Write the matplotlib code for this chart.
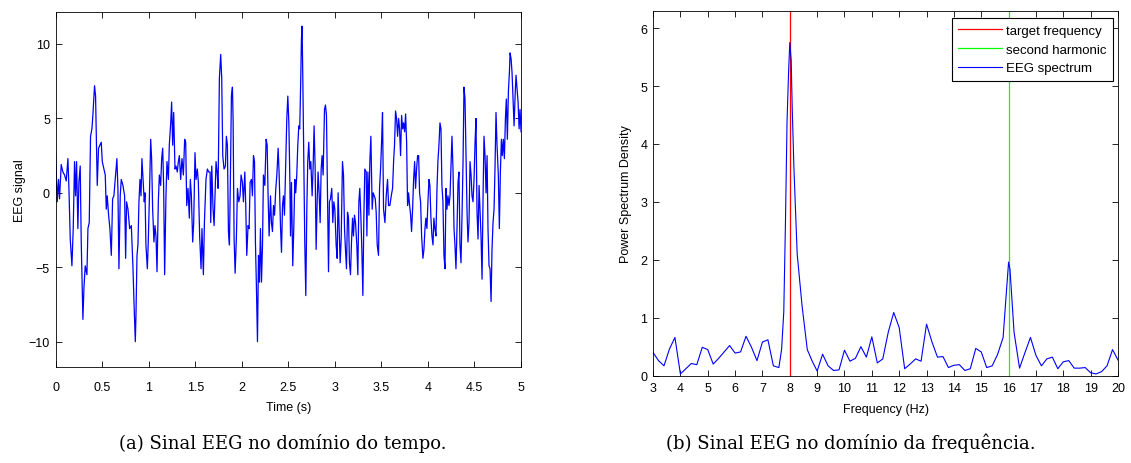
import matplotlib
matplotlib.use("Agg")
import matplotlib.pyplot as plt
import numpy as np

# --- (a) EEG signal in time domain (vertices) ---
time_s = [
    0.0, 0.018, 0.032, 0.043, 0.061, 0.079, 0.097, 0.115, 0.133, 0.143,
    0.158, 0.176, 0.190, 0.204, 0.215, 0.226, 0.240, 0.251, 0.265, 0.276,
    0.294, 0.305, 0.319, 0.337, 0.348, 0.362, 0.376, 0.391, 0.401, 0.419,
    0.430, 0.437, 0.448, 0.462, 0.477, 0.491, 0.502, 0.520, 0.534, 0.545,
    0.555, 0.570, 0.584, 0.599, 0.613, 0.627, 0.641, 0.659, 0.670, 0.681,
    0.695, 0.706, 0.724, 0.742, 0.753, 0.763, 0.778, 0.796, 0.814, 0.831,
    0.846, 0.857, 0.864, 0.875, 0.885, 0.896, 0.907, 0.918, 0.928, 0.943,
    0.953, 0.961, 0.971, 0.986, 0.996, 1.007, 1.022, 1.032, 1.043, 1.057,
    1.068, 1.079, 1.090, 1.104, 1.115, 1.129, 1.140, 1.151, 1.161, 1.172,
    1.186, 1.197, 1.212, 1.222, 1.237, 1.247, 1.258, 1.269, 1.283, 1.294,
    1.308, 1.319, 1.330, 1.344, 1.358, 1.373, 1.387, 1.398, 1.409, 1.423,
    1.437, 1.448, 1.459, 1.473, 1.484, 1.498, 1.509, 1.523, 1.534, 1.548,
    1.563, 1.573, 1.588, 1.599, 1.616, 1.631, 1.645, 1.660,
    1.667, 1.678, 1.692, 1.703, 1.714, 1.724, 1.735, 1.746, 1.760, 1.774,
    1.785, 1.796, 1.810, 1.825, 1.835, 1.846, 1.857, 1.868, 1.878, 1.889,
    1.900, 1.907, 1.918, 1.929, 1.943, 1.954, 1.968, 1.982, 1.993, 2.007,
    2.018, 2.033, 2.043, 2.054, 2.068, 2.079, 2.090, 2.104, 2.115, 2.126,
    2.137, 2.147, 2.158, 2.169, 2.180, 2.190, 2.201, 2.212, 2.223, 2.233,
    2.248, 2.262, 2.273, 2.283, 2.294, 2.309, 2.319, 2.330, 2.341, 2.352,
    2.366, 2.377, 2.391, 2.402, 2.416, 2.427, 2.438, 2.448, 2.459, 2.473,
    2.484, 2.495, 2.506, 2.516, 2.524,
    2.534, 2.548, 2.559, 2.570, 2.580, 2.591, 2.602, 2.613, 2.623, 2.634,
    2.641, 2.648, 2.656, 2.666, 2.677, 2.688, 2.699, 2.709, 2.720, 2.731,
    2.742, 2.756, 2.767, 2.777, 2.788, 2.799, 2.810, 2.820, 2.831, 2.842,
    2.853, 2.863, 2.874, 2.889, 2.899, 2.910, 2.921, 2.932, 2.942, 2.953,
    2.967, 2.978, 2.989, 3.000, 3.014, 3.025, 3.035, 3.046, 3.057, 3.068,
    3.082, 3.093, 3.104, 3.114, 3.125, 3.136, 3.147, 3.157, 3.168, 3.179,
    3.190, 3.200, 3.211, 3.222, 3.236, 3.247, 3.258, 3.268, 3.279, 3.290,
    3.301, 3.312, 3.322, 3.337,
    3.344, 3.355, 3.366, 3.376, 3.387, 3.401, 3.412, 3.423, 3.434, 3.444,
    3.455, 3.469, 3.480, 3.491, 3.502, 3.512, 3.523, 3.538, 3.552, 3.566,
    3.577, 3.591, 3.606, 3.620, 3.631, 3.641, 3.652, 3.663, 3.674, 3.685,
    3.695, 3.706, 3.717, 3.728, 3.738, 3.749, 3.760, 3.771, 3.781, 3.792,
    3.803, 3.814, 3.824, 3.835, 3.846, 3.857, 3.867, 3.878, 3.889, 3.900,
    3.910, 3.921, 3.932, 3.946, 3.957, 3.968, 3.978, 3.989, 4.000, 4.011,
    4.021, 4.032, 4.043, 4.054, 4.064, 4.075, 4.086, 4.097, 4.107, 4.118,
    4.129, 4.140, 4.150, 4.161, 4.172, 4.183,
    4.194, 4.204, 4.215, 4.226, 4.237, 4.248, 4.258, 4.269, 4.280, 4.290,
    4.301, 4.312, 4.323, 4.333, 4.344, 4.355, 4.366, 4.377, 4.387, 4.398,
    4.409, 4.420, 4.430, 4.441, 4.452, 4.463, 4.473, 4.484, 4.495, 4.506,
    4.516, 4.527, 4.538, 4.549, 4.559, 4.570, 4.581, 4.592, 4.602, 4.613,
    4.624, 4.635, 4.645, 4.656, 4.667, 4.678, 4.688, 4.699, 4.710, 4.720,
    4.731, 4.742, 4.756, 4.767, 4.778, 4.789, 4.799, 4.810, 4.821, 4.832,
    4.842, 4.853, 4.864, 4.875, 4.882, 4.893, 4.903, 4.914, 4.925, 4.936,
    4.946, 4.957, 4.968, 4.979, 4.989, 5.000,
]
eeg_signal = [
    2.8, -0.6, 0.9, -0.4, 1.9, 1.4, 1.2, 0.8, 2.3, 0.5,
    -3.1, -4.9, -2.4, 2.1, -0.2, 2.1, -2.4, 0.7, 1.8, -3.3,
    -8.5, -6.4, -4.9, -5.5, -2.4, -2.0, 3.8, 4.3, 5.2, 7.2,
    6.5, 4.3, 0.5, 3.0, 3.2, 3.4, 2.1, 1.6, 1.2, -1.1,
    -0.2, -1.5, -2.4, -4.2, -0.4, -0.2, 0.9, 2.3, 0.3, -5.1,
    -0.2, 0.9, 0.5, -0.2, -4.4, -0.6, -1.1, -2.4, -2.2, -4.9,
    -8.0, -10.0, -8.2, -4.2, -3.5, -0.6, 0.9, -0.2, 2.3, 0.5,
    -0.6, 0.0, -3.5, -5.1, -3.3, -0.6, 3.6, 2.3, -1.1, -3.3,
    -2.2, -2.9, -5.3, -0.6, 1.2, 0.5, 2.3, 3.0, 0.5, -5.5,
    -0.2, 2.1, 0.9, 3.2, 4.7, 6.1, 3.2, 5.4, 1.6, 1.8,
    1.4, 2.1, 2.5, 0.9, 2.3, 1.2, 3.6, 3.4, -0.85, 0.3,
    -1.7, 0.9, -0.2, -3.3, -2.0, 2.7, 0.9, 1.6, 0.7, -2.9,
    -5.1, -2.4, -5.5, -2.0, 0.9, 1.6, 1.4, 1.4,
    -2.0, 1.8, -1.1, -2.2, 0.0, 2.1, 1.4, 0.3, 7.7, 9.3,
    7.7, 2.5, 1.6, 1.8, 3.8, 3.2, -2.6, -3.5, 0.9, 6.5,
    7.1, 5.0, -3.1, -5.4, -2.9, 0.3, -0.6, -0.2, 1.2, 0.7,
    -0.6, 1.4, -0.85, -4.2, -2.2, -2.4, 0.7, 0.9, -0.2, 2.5,
    2.1, -3.3, -6.4, -10.0, -4.2, -6.0, -2.4, -6.0, -3.5, 1.2,
    0.5, 3.6, 3.2, -0.2, -2.9, -0.2, -2.0, -2.6, -0.85, -1.5,
    0.3, 1.2, 3.0, 1.2, -2.2, -4.0, -0.85, -0.2, -1.5, 2.1,
    5.0, 6.5, 4.7, 1.2, -2.9,
    0.7, -4.9, -2.4, 0.9, 0.0, 1.2, 3.2, 4.5, 4.3, 7.7,
    10.3, 11.2, 7.7, 2.5, -3.3, -6.9, -1.1, 2.1, 3.4, 1.6,
    2.1, -0.2, 1.8, 4.5, 1.8, -3.8, -0.6, 1.4, 0.0, -2.0,
    1.6, 2.5, 1.2, 5.6, 5.9, 5.2, -0.2, -5.3, -0.6, -0.4,
    0.3, -2.0, -0.6, -1.1, -3.5, -4.4, 0.0, -2.4, -4.7, -3.1,
    2.1, 1.2, -2.4, -3.8, -5.1, -1.3, -1.7, -4.7, -5.5, -3.3,
    -1.7, -2.9, -1.5, -2.0, -3.5, -5.5, -0.6, 0.3, -1.5, -3.8,
    -6.9, -1.5, 1.6, 1.4,
    -2.9, 1.4, -1.5, 2.1, 3.8, -1.1, 0.0, -0.2, -0.4, -1.3,
    -3.5, -4.2, 0.3, 1.6, 3.4, 5.4, -1.1, -2.0, -0.2, 0.9,
    -0.85, -0.85, -0.2, 0.3, 2.1, 3.2, 5.5, 5.0, 3.8, 5.0,
    4.3, 2.5, 5.2, 4.3, 4.7, 4.1, 5.3, 3.4, -0.85, 0.0,
    -0.85, -1.5, -2.6, -1.1, 0.9, 2.1, 0.3, 1.6, 2.5, 2.5,
    0.0, -0.6, -2.9, -4.4, -3.8, -2.4, -1.7, -2.4, -0.6, 0.9,
    0.5, -1.7, -2.9, -3.5, -1.7, -2.4, -2.9, 0.3, 2.1, 3.2,
    4.7, 4.3, 0.5, -0.6, -4.2, -5.1,
    0.3, -1.1, -0.2, -0.85, -0.2, 1.8, 3.8, 1.6, -2.4, -3.5,
    -5.1, -2.4, 0.7, 1.4, -3.5, -4.7, -1.5, 2.1, 7.1, 6.3,
    2.5, -1.3, -3.3, -2.0, 2.1, 1.2, -0.2, -0.6, 0.9, 3.4,
    5.0, -1.3, -3.1, 0.5, -1.1, -2.9, -5.8, -0.2, 3.8, 2.5,
    0.0, 2.5, -2.4, -4.9, -5.1, -7.3, -3.8, -2.0, -1.1, 1.6,
    5.4, 3.2, 1.2, -2.4, 1.4, 3.6, 2.5, 3.6, 2.3, 5.0,
    6.3, 3.6, 6.8, 8.1, 9.4, 9.0, 8.1, 6.3, 4.5, 6.5,
    7.9, 7.0, 6.1, 4.3, 5.6, 4.1,
]

# --- (b) EEG spectrum (vertices) ---
freq_hz = [
    3.0, 3.2, 3.4, 3.6, 3.8, 4.0, 4.2, 4.4, 4.6, 4.8,
    5.0, 5.2, 5.4, 5.6, 5.8, 6.0, 6.2, 6.4, 6.6, 6.8,
    7.0, 7.2, 7.4, 7.6, 7.7, 7.78, 7.84, 7.9, 7.96, 8.0,
    8.05, 8.09, 8.15, 8.27, 8.45, 8.64, 8.82, 9.0, 9.2,
    9.4, 9.6, 9.8, 10.0, 10.2, 10.4, 10.6, 10.8, 11.0, 11.2,
    11.4, 11.6, 11.8, 12.0, 12.2, 12.4, 12.6, 12.8, 13.0, 13.2,
    13.4, 13.6, 13.8, 14.0, 14.2, 14.4, 14.6, 14.8, 15.0, 15.2,
    15.4, 15.6, 15.8, 15.9, 16.0, 16.05, 16.2, 16.4, 16.6, 16.8,
    17.0, 17.2, 17.4, 17.6, 17.8, 18.0, 18.2, 18.4, 18.6, 18.8,
    19.0, 19.2, 19.4, 19.6, 19.8, 20.0,
]
psd = [
    0.40, 0.26, 0.17, 0.46, 0.66, 0.03, 0.12, 0.21, 0.19, 0.49,
    0.45, 0.20, 0.30, 0.41, 0.52, 0.39, 0.41, 0.68, 0.49, 0.26,
    0.58, 0.62, 0.17, 0.14, 0.45, 1.10, 2.60, 4.40, 5.30, 5.75,
    5.45, 4.60, 3.60, 2.10, 1.20, 0.45, 0.25, 0.08, 0.37,
    0.17, 0.09, 0.10, 0.44, 0.25, 0.30, 0.50, 0.32, 0.67, 0.22,
    0.29, 0.75, 1.09, 0.83, 0.12, 0.20, 0.29, 0.25, 0.89, 0.58,
    0.32, 0.33, 0.14, 0.18, 0.19, 0.09, 0.12, 0.47, 0.41, 0.14,
    0.17, 0.37, 0.66, 1.32, 1.96, 1.84, 0.75, 0.13, 0.40, 0.66,
    0.35, 0.17, 0.29, 0.32, 0.12, 0.24, 0.26, 0.13, 0.13, 0.14,
    0.05, 0.03, 0.07, 0.17, 0.45, 0.27,
]
target_freq = 8
harmonic_freq = 16

plt.rcParams["font.family"] = ["Liberation Sans", "DejaVu Sans"]

fig = plt.figure(figsize=(11.31, 4.64), dpi=100)
ax1 = fig.add_axes([0.0491, 0.2069, 0.4116, 0.7651])
ax2 = fig.add_axes([0.5774, 0.1882, 0.4111, 0.7866])

ax1.plot(time_s, eeg_signal, color="#0000ff", lw=0.9)
ax1.set_xlim(0, 5)
ax1.set_ylim(-11.7, 12.15)
ax1.set_xticks(np.arange(0, 5.01, 0.5))
ax1.set_xticklabels(["0", "0.5", "1", "1.5", "2", "2.5", "3", "3.5", "4", "4.5", "5"])
ax1.set_yticks([-10, -5, 0, 5, 10])
ax1.set_ylabel("EEG signal", fontsize=9, labelpad=2)

ax2.axvline(target_freq, color="#ff0000", lw=0.9, label="target frequency")
ax2.axvline(harmonic_freq, color="#00ff00", lw=0.9, label="second harmonic")
ax2.plot(freq_hz, psd, color="#0000ff", lw=0.8, label="EEG spectrum")
ax2.set_xlim(3, 20)
ax2.set_ylim(0, 6.3)
ax2.set_xticks(range(3, 21))
ax2.set_yticks(range(0, 7))
ax2.set_ylabel("Power Spectrum Density", fontsize=9, labelpad=6)
leg = ax2.legend(loc="upper right", bbox_to_anchor=(0.989, 0.98), borderaxespad=0,
                 fontsize=9.5, fancybox=False, framealpha=1, edgecolor="black",
                 handlelength=3.3, handletextpad=0.3, borderpad=0.5,
                 labelspacing=0.5)
leg.get_frame().set_linewidth(0.8)

for ax in (ax1, ax2):
    ax.tick_params(direction="in", top=True, right=True, labelsize=9,
                   length=4, width=0.6, pad=4)
    for sp in ax.spines.values():
        sp.set_linewidth(0.6)

# MATLAB export leaves a larger gap under the left panel's ticks
ax1.tick_params(axis="x", pad=9.8)
ax2.tick_params(axis="x", pad=4.7)
ax1.set_xlabel("Time (s)", fontsize=9, labelpad=6)
ax2.set_xlabel("Frequency (Hz)", fontsize=9, labelpad=6)

fig.text(0.250, 0.024, "(a) Sinal EEG no domínio do tempo.", ha="center",
         va="bottom", fontsize=13, family=["DejaVu Serif"])
fig.text(0.752, 0.024, "(b) Sinal EEG no domínio da frequência.", ha="center",
         va="bottom", fontsize=13, family=["DejaVu Serif"])

fig.savefig("out.png", dpi=100)
